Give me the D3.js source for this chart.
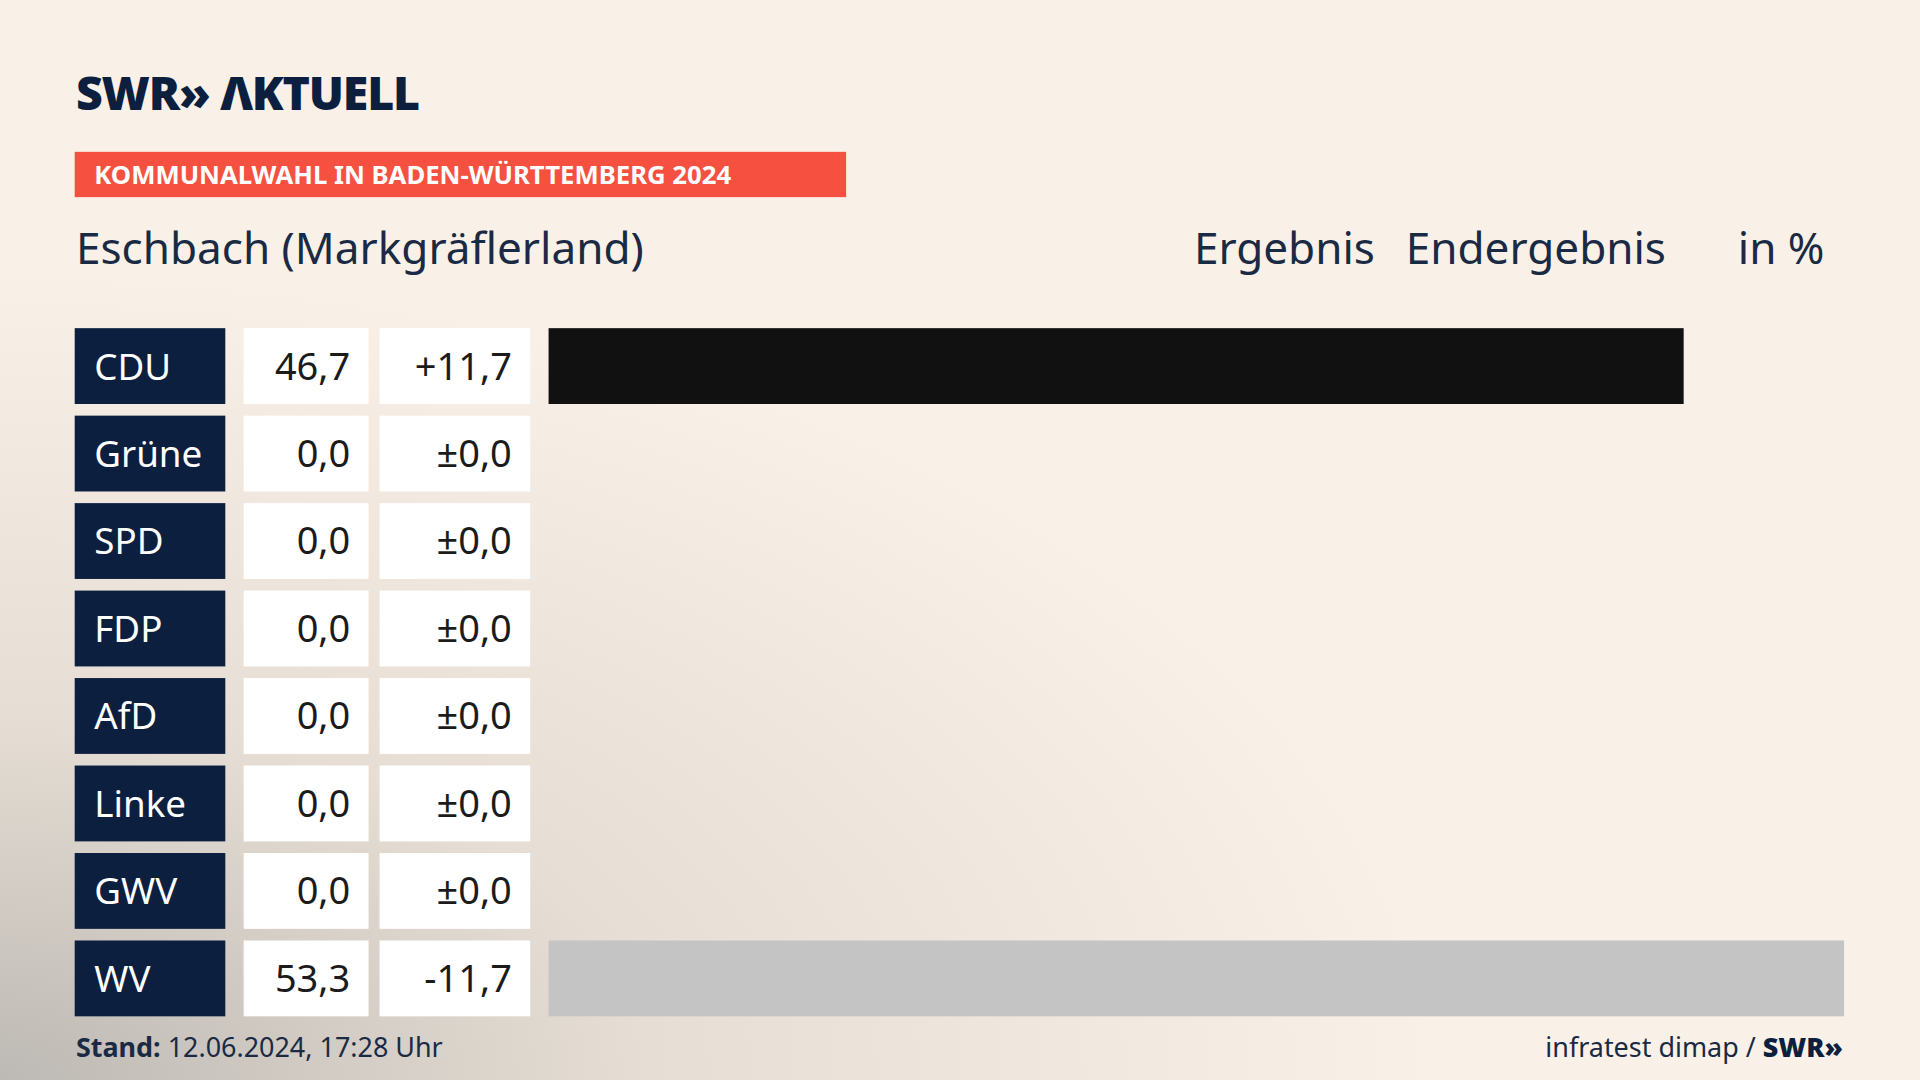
<!DOCTYPE html>
<html><head><meta charset="utf-8">
<script src="https://cdn.jsdelivr.net/npm/d3@7"></script>
<style>body{margin:0;overflow:hidden}svg{display:block}</style>
</head><body>
<script>
const parties = ["CDU","Grüne","SPD","FDP","AfD","Linke","GWV","WV"]
const shares = [46.7,0,0,0,0,0,0,53.3]
const diffs = ["+11,7","±0,0","±0,0","±0,0","±0,0","±0,0","±0,0","-11,7"]
const barColors = ["#111111","#111111","#111111","#111111","#111111","#111111","#111111","#c4c4c4"]

const W = 1568, H = 882
const svg = d3.select("body").append("svg")
  .attr("width", 1920).attr("height", 1080)
  .attr("viewBox", `0 0 ${W} ${H}`)
const font = "'Noto Sans', sans-serif"
const navy = "#0d1f3f"

// background
const defs = svg.append("defs")
const rg = defs.append("radialGradient").attr("id","bg")
  .attr("cx","0").attr("cy","1").attr("r","0.75")
rg.append("stop").attr("offset","0").attr("stop-color","#bdb9b4")
rg.append("stop").attr("offset","0.45").attr("stop-color","#e6ded4")
rg.append("stop").attr("offset","1").attr("stop-color","#f9f1e7")
svg.append("rect").attr("width",W).attr("height",H).attr("fill","#f9f1e7")
svg.append("rect").attr("width",W).attr("height",H).attr("fill","url(#bg)")

// header
svg.append("text").attr("x",62).attr("y",90).attr("font-family",font)
  .attr("font-weight",900).attr("font-size",38).attr("fill",navy)
  .attr("letter-spacing",-1).text("SWR» ΛKTUELL")
svg.append("rect").attr("x",61).attr("y",124).attr("width",630).attr("height",37).attr("fill","#f65140")
svg.append("text").attr("x",77).attr("y",150).attr("font-family",font)
  .attr("font-weight",700).attr("font-size",21).attr("fill","#fff")
  .text("KOMMUNALWAHL IN BADEN-WÜRTTEMBERG 2024")
const hdr = (x, t, anchor) => svg.append("text").attr("x",x).attr("y",216)
  .attr("font-family",font).attr("font-size",36).attr("fill","#1b2a44")
  .attr("text-anchor",anchor||"start").text(t)
hdr(62,"Eschbach (Markgräflerland)")
hdr(975,"Ergebnis")
hdr(1148,"Endergebnis")
hdr(1490,"in %","end")

// rows
const y = d3.scaleBand().domain(parties).range([268, 830]).paddingInner(0.133).paddingOuter(0)
const x = d3.scaleLinear().domain([0, 53.3]).range([448, 1506])
const fmt = v => v.toFixed(1).replace(".", ",")

const rows = svg.selectAll("g.row").data(parties).join("g").attr("class","row")
  .attr("transform", d => `translate(0,${y(d)})`)
const bh = y.bandwidth()
rows.append("rect").attr("x",61).attr("width",123).attr("height",bh).attr("fill",navy)
rows.append("text").attr("x",77).attr("y",bh/2+11).attr("font-family",font)
  .attr("font-size",30).attr("fill","#fff").text(d => d)
rows.append("rect").attr("x",199).attr("width",102).attr("height",bh).attr("fill","#fff")
rows.append("text").attr("x",286).attr("y",bh/2+11).attr("text-anchor","end")
  .attr("font-family",font).attr("font-size",31).attr("fill","#1b1b1b")
  .text((d,i) => fmt(shares[i]))
rows.append("rect").attr("x",310).attr("width",123).attr("height",bh).attr("fill","#fff")
rows.append("text").attr("x",418).attr("y",bh/2+11).attr("text-anchor","end")
  .attr("font-family",font).attr("font-size",31).attr("fill","#1b1b1b")
  .text((d,i) => diffs[i])
rows.append("rect").attr("x",x(0)).attr("height",bh)
  .attr("width",(d,i) => x(shares[i]) - x(0))
  .attr("fill",(d,i) => barColors[i])

// footer
const ft = svg.append("text").attr("x",62).attr("y",863).attr("font-family",font)
  .attr("font-size",22).attr("fill","#1b2a44")
ft.append("tspan").attr("font-weight",700).text("Stand: ")
ft.append("tspan").text("12.06.2024, 17:28 Uhr")
const fr = svg.append("text").attr("x",1505).attr("y",863).attr("text-anchor","end")
  .attr("font-family",font).attr("font-size",22).attr("fill","#1b2a44")
fr.append("tspan").text("infratest dimap / ")
fr.append("tspan").attr("font-weight",900).attr("fill",navy).text("SWR»")
</script>
</body></html>
